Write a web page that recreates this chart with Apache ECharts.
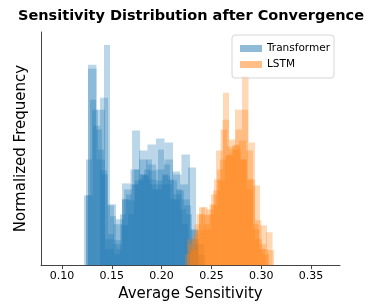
<!DOCTYPE html>
<html>
<head>
<meta charset="utf-8">
<script src="https://cdn.jsdelivr.net/npm/echarts@6/dist/echarts.min.js"></script>
<style>
  html, body { margin: 0; padding: 0; background: #fff; }
  #chart { width: 371px; height: 307px; }
</style>
</head>
<body>
<div id="chart"></div>
<script>
// x tick labels
const xTicks = [0.10, 0.15, 0.20, 0.25, 0.30, 0.35];

// each run: histogram with first bin edge, bin width, bar heights
const tfStarts = [0.1241, 0.1261, 0.1261, 0.1382, 0.1221, 0.1241];
const tfWidths = [0.00602, 0.00853, 0.00853, 0.00803, 0.00602, 0.00703];
const tfRun1 = [10.6, 15.6, 11.6, 22.1, 4.9, 1.6, 6.6, 5.1, 9.6, 9.1, 10.6, 7.6, 11.6, 10.1, 6.6, 7.6, 4.1, 1.6];
const tfRun2 = [20.1, 15.6, 2.6, 4.1, 8.2, 9.6, 11.5, 10.1, 12.7, 12.3, 7.1, 11.1, 3.6];
const tfRun3 = [19.7, 10.6, 1.6, 2.1, 6.6, 8.1, 10.6, 12.1, 9.6, 10.6, 9.1, 6.6, 2.6];
const tfRun4 = [16.8, 6.1, 4.6, 7.6, 13.5, 9.1, 8.6, 8.1, 8.1, 9.4, 8.1, 9.8, 2.1];
const tfRun5 = [7.0, 16.6, 13.6, 9.1, 3.1, 1.1, 5.1, 7.1, 8.1, 8.6, 9.6, 8.1, 7.6, 9.1, 8.6, 6.6, 5.6, 5.1, 2.1];
const tfRun6 = [7.0, 14.0, 9.5, 6.0, 2.5, 4.0, 6.5, 8.5, 9.0, 9.5, 8.5, 9.0, 8.5, 7.5, 6.0, 3.5, 1.0];

const lsStarts = [0.2255, 0.2285, 0.2235, 0.2265, 0.2285];
const lsWidths = [0.00602, 0.00653, 0.00703, 0.00653, 0.00703];
const lsRun1 = [2.6, 3.1, 5.8, 3.6, 7.1, 9.6, 17.3, 11.6, 15.6, 10.6, 8.6, 4.1, 1.6];
const lsRun2 = [1.6, 5.1, 4.1, 6.1, 11.5, 14.6, 12.6, 13.6, 18.9, 12.3, 4.5, 1.6];
const lsRun3 = [1.1, 2.6, 5.1, 5.6, 7.5, 10.6, 11.9, 11.6, 15.6, 8.6, 2.6, 1.1];
const lsRun4 = [2.1, 4.1, 5.8, 5.1, 8.6, 13.6, 11.1, 12.1, 10.6, 7.6, 3.6, 2.1, 3.3];
const lsRun5 = [1.5, 3.5, 5.0, 6.0, 8.5, 11.0, 12.0, 12.5, 11.5, 8.0, 4.0, 1.5];

const tfRuns = [tfRun1, tfRun2, tfRun3, tfRun4, tfRun5, tfRun6];
const lsRuns = [lsRun1, lsRun2, lsRun3, lsRun4, lsRun5];

const BLUE = 'rgba(31,119,180,0.3)';
const ORANGE = 'rgba(255,127,14,0.3)';

function toBars(start, width, heights) {
    return heights.map((h, i) => [start + i * width, start + (i + 1) * width, h]);
}

function histSeries(name, color, bars) {
    return {
        name: name,
        type: 'custom',
        itemStyle: { color: color },
        encode: { x: [0, 1], y: 2 },
        data: bars,
        renderItem: function (params, api) {
            var p0 = api.coord([api.value(0), api.value(2)]);
            var p1 = api.coord([api.value(1), 0]);
            return {
                type: 'rect',
                shape: { x: p0[0], y: p0[1], width: p1[0] - p0[0], height: p1[1] - p0[1] },
                style: { fill: color }
            };
        }
    };
}

let series = [];
tfRuns.forEach((r, i) => series.push(histSeries('Transformer', BLUE, toBars(tfStarts[i], tfWidths[i], r))));
lsRuns.forEach((r, i) => series.push(histSeries('LSTM', ORANGE, toBars(lsStarts[i], lsWidths[i], r))));

const FONT = 'DejaVu Sans';
let chart = echarts.init(document.getElementById('chart'), null, { renderer: 'canvas' });
chart.setOption({
    animation: false,
    title: {
        text: 'Sensitivity Distribution after Convergence',
        left: 186, top: 4, textAlign: 'center',
        textStyle: { fontFamily: FONT, fontWeight: 'bold', fontSize: 14.5, color: '#000' }
    },
    legend: {
        orient: 'vertical',
        right: 37, top: 35,
        itemWidth: 22, itemHeight: 7, itemGap: 5,
        padding: [8, 4, 8, 8],
        borderColor: '#d6d6d6', borderWidth: 1, borderRadius: 3,
        textStyle: { fontFamily: FONT, fontSize: 10.5, color: '#000' },
        data: [
            { name: 'Transformer', icon: 'rect', itemStyle: { color: 'rgba(31,119,180,0.5)' } },
            { name: 'LSTM', icon: 'rect', itemStyle: { color: 'rgba(255,127,14,0.5)' } }
        ]
    },
    grid: { left: 41, right: 31, top: 32, bottom: 41 },
    xAxis: {
        type: 'value',
        min: 0.0789, max: 0.3791,
        name: 'Average Sensitivity',
        nameLocation: 'middle', nameGap: 21,
        nameTextStyle: { fontFamily: FONT, fontSize: 15, color: '#000' },
        axisLine: { show: true, lineStyle: { color: '#444', width: 1 } },
        axisTick: { show: true, length: 4, customValues: xTicks, lineStyle: { color: '#444' } },
        axisLabel: {
            customValues: xTicks, margin: 6,
            fontFamily: FONT, fontSize: 11, color: '#000',
            formatter: v => v.toFixed(2)
        },
        splitLine: { show: false }
    },
    yAxis: {
        type: 'value',
        min: 0, max: 23.4,
        name: 'Normalized Frequency',
        nameLocation: 'middle', nameGap: 12,
        nameTextStyle: { fontFamily: FONT, fontSize: 15, color: '#000' },
        axisLine: { show: true, lineStyle: { color: '#444', width: 1 } },
        axisTick: { show: false },
        axisLabel: { show: false },
        splitLine: { show: false }
    },
    series: series
});
</script>
</body>
</html>
